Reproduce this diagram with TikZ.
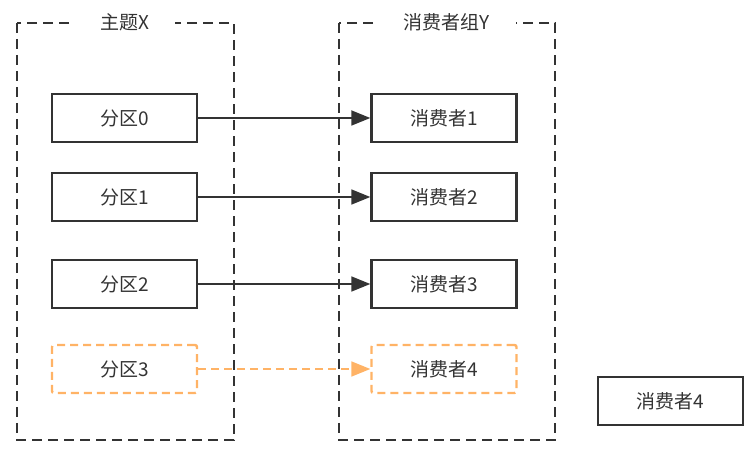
\documentclass[tikz,border=0pt]{standalone}
\usepackage{fontspec}
\newfontfamily\cjk{Noto Sans CJK SC}
\usetikzlibrary{arrows.meta}
\definecolor{darkline}{HTML}{333333}
\definecolor{lightorange}{HTML}{FFB366}
\begin{document}
\begin{tikzpicture}[x=1pt,y=-1pt,
  font=\cjk\fontsize{19}{22}\selectfont, text=darkline,
  group/.style={draw=darkline, line width=2.2pt, dash pattern=on 10pt off 6pt},
  grouptitle/.style={fill=white, inner xsep=26pt, inner ysep=2pt},
  box/.style={draw=darkline, line width=2.4pt, minimum width=145pt, minimum height=48pt},
  spare/.style={draw=lightorange, line width=2.4pt, dash pattern=on 8pt off 5pt,
    rounded corners=2pt, minimum width=145pt, minimum height=48pt},
  link/.style={draw=darkline, line width=1.8pt, -{Triangle[length=19pt,width=15pt]}},
  sparelink/.style={draw=lightorange, line width=1.8pt, dash pattern=on 8pt off 5pt,
    -{Triangle[length=19pt,width=15pt]}}]

\useasboundingbox (0,0) rectangle (756,462);

% Topic X and consumer group Y
\draw[group] (17,23) rectangle (234,440);
\draw[group] (339,23) rectangle (555,440);
\node[grouptitle] (topic) at (125,22) {主题X};
\node[grouptitle] (groupy) at (447,22) {消费者组Y};

% partitions
\node[box] (p0) at (124.5,118) {分区0};
\node[box] (p1) at (124.5,197) {分区1};
\node[box] (p2) at (124.5,284) {分区2};
\node[spare] (p3) at (124.5,369) {分区3};

% consumers
\node[box] (c1) at (444,118) {消费者1};
\node[box] (c2) at (444,197) {消费者2};
\node[box] (c3) at (444,284) {消费者3};
\node[spare] (c4) at (444,369) {消费者4};
\node[box] (extra) at (670.5,401) {消费者4};

% assignments
\draw[link] (p0) -- (c1);
\draw[link] (p1) -- (c2);
\draw[link] (p2) -- (c3);
\draw[sparelink] (p3) -- (c4);

\end{tikzpicture}
\end{document}
